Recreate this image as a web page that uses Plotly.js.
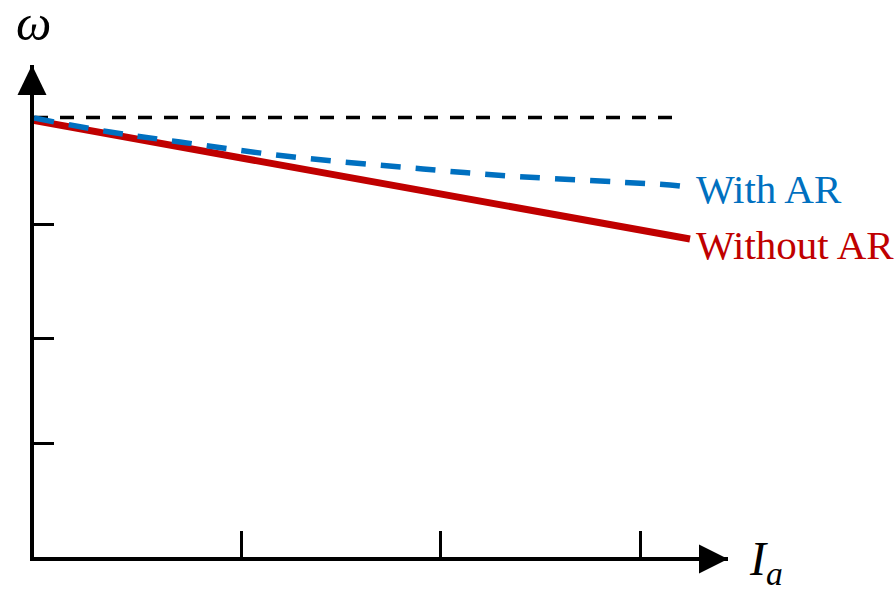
<!DOCTYPE html>
<html>
<head>
<meta charset="utf-8">
<script src="https://cdn.plot.ly/plotly-3.0.1.min.js"></script>
<style>html,body{margin:0;padding:0;background:#fff;}#chart{width:896px;height:592px;}</style>
</head>
<body>
<div id="chart"></div>
<script>
// ---- data ----
var withArX    = [0, 0.38, 0.73, 1.255, 1.945, 2.38, 3.18, 3.23];
var withArY    = [4.39, 4.25, 4.15, 4.01, 3.88, 3.81, 3.72, 3.71];
var withoutArX = [0, 3.28];
var withoutArY = [4.365, 3.18];
var noLoadX    = [0, 3.215];
var noLoadY    = [4.395, 4.395];
var xTickVals  = [1.035, 2.03, 3.03];
var yTickVals  = [1.14, 2.19, 3.33];
var xMax = 3.47, yMax = 4.92;
var seriesNames = ['With AR', 'Without AR'];

var blue = '#0070C0', red = '#C00000';
var serif = 'Liberation Serif, Times New Roman, serif';

var traces = [
  {x: noLoadX, y: noLoadY, mode: 'lines', line: {color: '#000', width: 3.5, dash: '14px,12px'}, hoverinfo: 'skip'},
  {x: withoutArX, y: withoutArY, mode: 'lines', name: seriesNames[1], line: {color: red, width: 7}},
  {x: withArX, y: withArY, mode: 'lines', name: seriesNames[0], line: {color: blue, width: 5.5, dash: '20px,15px', shape: 'spline'}}
];

var axisCommon = {
  showgrid: false, zeroline: false, showline: true, linecolor: '#000', linewidth: 4,
  ticks: 'inside', tickcolor: '#000', tickwidth: 3, showticklabels: false, fixedrange: true
};

var layout = {
  width: 896, height: 592,
  margin: {l: 34, r: 168, t: 65, b: 35, pad: 0},
  paper_bgcolor: '#fff', plot_bgcolor: '#fff',
  showlegend: false,
  xaxis: Object.assign({}, axisCommon, {range: [0, xMax], tickvals: xTickVals, ticklen: 26}),
  yaxis: Object.assign({}, axisCommon, {range: [0, yMax], tickvals: yTickVals, ticklen: 20}),
  shapes: [
    // arrowheads at the ends of the axes (paper refs so they are not clipped)
    {type: 'path', xref: 'paper', yref: 'paper', xsizemode: 'pixel', ysizemode: 'pixel', xanchor: 1, yanchor: 0,
     path: 'M-29,-16.5 L0,-2 L-29,12.5 Z', fillcolor: '#000', line: {width: 0}},
    {type: 'path', xref: 'paper', yref: 'paper', xsizemode: 'pixel', ysizemode: 'pixel', xanchor: 0, yanchor: 1,
     path: 'M-16.5,-30 L-2,0 L12.5,-30 Z', fillcolor: '#000', line: {width: 0}}
  ],
  annotations: [
    {x: 0, y: yMax, xref: 'x', yref: 'y', text: 'ω', showarrow: false, xanchor: 'center', yanchor: 'middle',
     xshift: -1, yshift: 42, font: {family: serif, size: 50, color: '#000', style: 'italic'}},
    {x: xMax, y: 0, xref: 'x', yref: 'y', text: 'I<sub>a</sub>', showarrow: false, xanchor: 'left', yanchor: 'middle',
     xshift: 19, yshift: -5, font: {family: serif, size: 48, color: '#000', style: 'italic'}},
    {x: withArX[withArX.length - 1], y: withArY[withArY.length - 1], xref: 'x', yref: 'y', text: seriesNames[0],
     showarrow: false, xanchor: 'left', yanchor: 'middle', xshift: 14, yshift: -3,
     font: {family: serif, size: 41, color: blue}},
    {x: withoutArX[withoutArX.length - 1], y: withoutArY[withoutArY.length - 1], xref: 'x', yref: 'y', text: seriesNames[1],
     showarrow: false, xanchor: 'left', yanchor: 'middle', xshift: 4, yshift: -6,
     font: {family: serif, size: 41, color: red}}
  ]
};

Plotly.newPlot('chart', traces, layout, {staticPlot: true, displayModeBar: false});
</script>
</body>
</html>
